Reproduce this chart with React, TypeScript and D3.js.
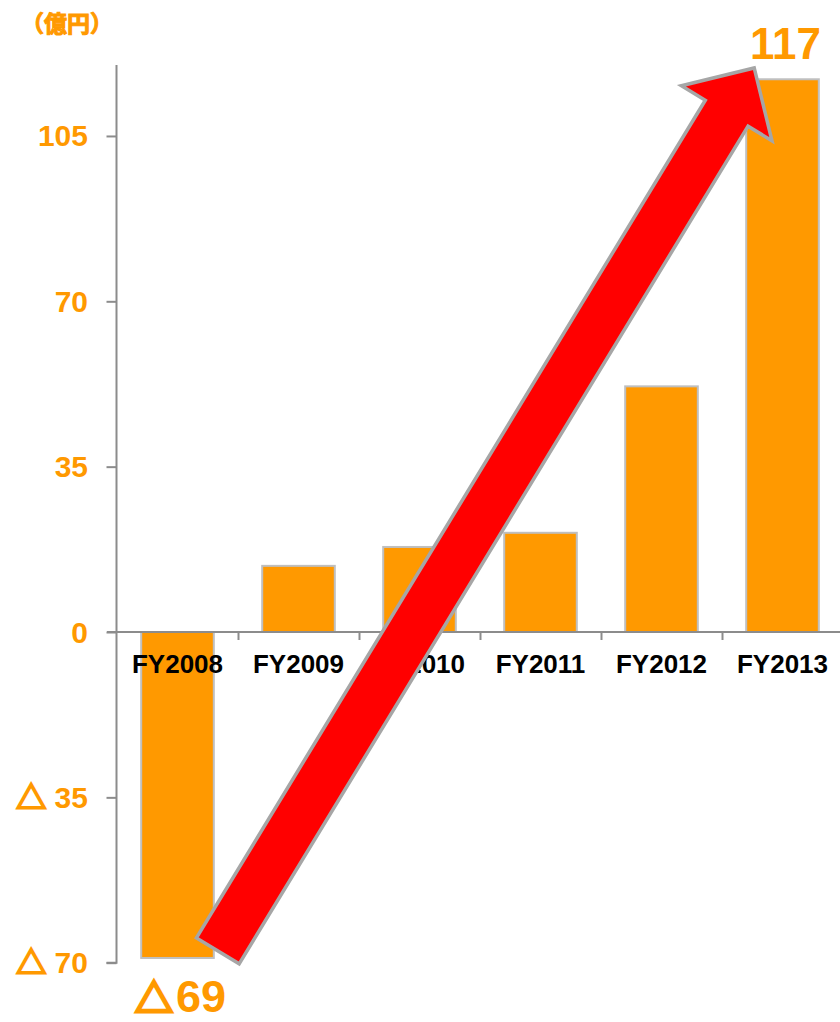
import React, { useEffect, useRef } from "react";
import * as d3 from "d3";

const categories = ["FY2008", "FY2009", "FY2010", "FY2011", "FY2012", "FY2013"];
const values = [-69, 14, 18, 21, 52, 117];
const yTicks = [-70, -35, 0, 35, 70, 105];
const unitLabel = "（億円）";
// arrow runs from the FY2008 loss up to the FY2013 profit
const arrowFrom = { cat: "FY2008", value: -67.5 };
const arrowTo = { cat: "FY2013", value: 119.4 };

const ORANGE = "#ff9900";
const LATIN = "'Liberation Sans', Arial, sans-serif";
const CJK = "'Noto Sans CJK JP', sans-serif";

const App: React.FC = () => {
  const ref = useRef<SVGSVGElement>(null);

  useEffect(() => {
    const width = 840,
      height = 1022;
    const svg = d3.select(ref.current);
    svg.selectAll("*").remove();

    const x = d3
      .scaleBand<string>()
      .domain(categories)
      .range([117, 843])
      .paddingInner(0.4)
      .paddingOuter(0.2);

    const y = d3.scaleLinear().domain([-70, 120]).range([962.7, 65.1]);

    // Bars
    svg
      .append("g")
      .selectAll("rect")
      .data(values)
      .enter()
      .append("rect")
      .attr("x", (_, i) => x(categories[i])!)
      .attr("y", (d) => y(Math.max(0, d)))
      .attr("width", x.bandwidth())
      .attr("height", (d) => Math.abs(y(d) - y(0)))
      .attr("fill", ORANGE)
      .attr("stroke", "#bfbfbf")
      .attr("stroke-width", 2);

    // Y axis
    const yAxis = svg
      .append("g")
      .attr("transform", "translate(116.5,0)")
      .call(d3.axisLeft(y).tickValues(yTicks).tickSize(10).tickFormat(() => ""));
    yAxis.selectAll("path,line").attr("stroke", "#8c8c8c").attr("stroke-width", 2);
    yAxis.select(".domain").attr("d", `M0,${y(120)}V${y(-70)}H-10`);

    svg
      .append("g")
      .selectAll("text")
      .data(yTicks)
      .enter()
      .append("text")
      .attr("x", 88)
      .attr("y", (d) => y(d))
      .attr("dy", "0.35em")
      .attr("text-anchor", "end")
      .attr("fill", ORANGE)
      .attr("font-family", LATIN)
      .attr("font-weight", "bold")
      .attr("font-size", 30)
      .each(function (d) {
        const t = d3.select(this);
        if (d < 0) {
          t.append("tspan")
            .attr("font-family", CJK)
            .attr("stroke", ORANGE)
            .attr("stroke-width", 2.2)
            .text("△");
          t.append("tspan").text(" " + Math.abs(d));
        } else {
          t.text(d);
        }
      });

    // X axis at zero
    const xAxis = svg
      .append("g")
      .attr("transform", `translate(0,${y(0)})`)
      .call(
        d3
          .axisBottom(d3.scaleLinear().domain([0, 6]).range([117, 843]))
          .tickValues(d3.range(1, 6))
          .tickSize(8)
          .tickFormat(() => "")
      );
    xAxis.selectAll("path,line").attr("stroke", "#8c8c8c").attr("stroke-width", 2);
    xAxis.select(".domain").attr("d", `M107,0H${width}`);

    svg
      .append("g")
      .selectAll("text")
      .data(categories)
      .enter()
      .append("text")
      .attr("x", (d) => x(d)! + x.bandwidth() / 2)
      .attr("y", y(0) + 41)
      .attr("text-anchor", "middle")
      .attr("font-family", LATIN)
      .attr("font-weight", "bold")
      .attr("font-size", 26)
      .attr("fill", "#000")
      .text((d) => d);

    // Unit label
    svg
      .append("text")
      .attr("x", 21)
      .attr("y", 32)
      .attr("fill", ORANGE)
      .attr("stroke", ORANGE)
      .attr("stroke-width", 1)
      .attr("font-family", CJK)
      .attr("font-weight", "bold")
      .attr("font-size", 23)
      .text(unitLabel);

    // Big red arrow
    const x0 = x(arrowFrom.cat)! + x.bandwidth() + 4,
      y0 = y(arrowFrom.value),
      x1 = x(arrowTo.cat)! + 8,
      y1 = y(arrowTo.value);
    const L = Math.hypot(x1 - x0, y1 - y0);
    const ang = (Math.atan2(y1 - y0, x1 - x0) * 180) / Math.PI;
    const sw = 25,
      hw = 53,
      hl = 53;
    const pts: [number, number][] = [
      [0, -sw],
      [L - hl, -sw],
      [L - hl, -hw],
      [L, 0],
      [L - hl, hw],
      [L - hl, sw],
      [0, sw],
    ];
    svg
      .append("polygon")
      .attr("transform", `translate(${x0},${y0}) rotate(${ang})`)
      .attr("points", pts.map((p) => p.join(",")).join(" "))
      .attr("fill", "#ff0000")
      .attr("stroke", "#a6a6a6")
      .attr("stroke-width", 3.5)
      .attr("stroke-linejoin", "miter");

    // Value callouts for first and last year
    const first = values[0],
      last = values[values.length - 1];
    const firstLabel = svg
      .append("text")
      .attr("x", x(categories[0])! + x.bandwidth() / 2 + 3)
      .attr("y", height - 10)
      .attr("text-anchor", "middle")
      .attr("fill", ORANGE)
      .attr("font-family", LATIN)
      .attr("font-weight", "bold")
      .attr("font-size", 45);
    firstLabel
      .append("tspan")
      .attr("font-family", CJK)
      .attr("font-size", 38)
      .attr("stroke", ORANGE)
      .attr("stroke-width", 3)
      .text("△");
    firstLabel.append("tspan").attr("dx", 3).text(Math.abs(first));

    svg
      .append("text")
      .attr("x", x(categories[5])! + x.bandwidth() / 2 + 3)
      .attr("y", 59)
      .attr("text-anchor", "middle")
      .attr("fill", ORANGE)
      .attr("font-family", LATIN)
      .attr("font-weight", "bold")
      .attr("font-size", 44)
      .text(last);
  }, []);

  return (
    <svg
      ref={ref}
      width={840}
      height={1022}
      style={{ position: "absolute", left: 0, top: 0, background: "#fff" }}
    />
  );
};

export default App;
